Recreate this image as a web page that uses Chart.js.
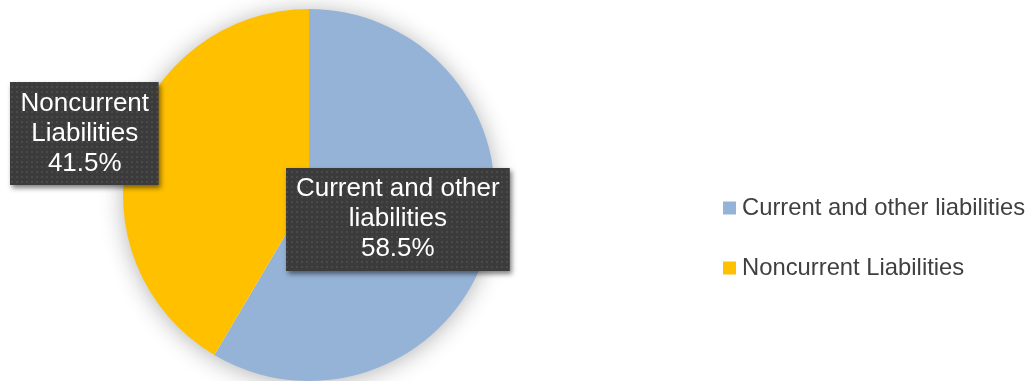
<!DOCTYPE html>
<html>
<head>
<meta charset="utf-8">
<style>
  html, body { margin: 0; padding: 0; background: #fff; }
  #wrap { width: 1033px; height: 381px; }
</style>
</head>
<body>
<div id="wrap"><canvas id="liabChart" width="1033" height="381"></canvas></div>
<script src="https://cdn.jsdelivr.net/npm/chart.js"></script>
<script>
    const categories = ['Current and other liabilities', 'Noncurrent Liabilities'];
    const shares = [58.5, 41.5];
    const sliceColors = ['#95b3d7', '#ffc000'];

    const FONT = '"Liberation Sans", Arial, Helvetica, sans-serif';

    // dotted dark fill used by the data label boxes
    function dotPattern(ctx) {
        const c = document.createElement('canvas');
        c.width = 5; c.height = 5;
        const p = c.getContext('2d');
        p.fillStyle = '#3b3b3b';
        p.fillRect(0, 0, 5, 5);
        p.fillStyle = '#4a4a4a';
        p.fillRect(1, 1, 2, 2);
        return ctx.createPattern(c, 'repeat');
    }

    function wrapText(ctx, text, maxW) {
        const words = text.split(' ');
        const lines = [];
        let cur = '';
        words.forEach(w => {
            const test = cur ? cur + ' ' + w : w;
            if (ctx.measureText(test).width > maxW && cur) {
                lines.push(cur);
                cur = w;
            } else {
                cur = test;
            }
        });
        if (cur) lines.push(cur);
        return lines;
    }

    const pieShadow = {
        id: 'pieShadow',
        beforeDatasetsDraw(chart) {
            const arc = chart.getDatasetMeta(0).data[0];
            if (!arc) return;
            const ctx = chart.ctx;
            ctx.save();
            ctx.shadowColor = 'rgba(0,0,0,0.32)';
            ctx.shadowBlur = 24;
            ctx.shadowOffsetY = 2;
            ctx.fillStyle = '#ffffff';
            ctx.beginPath();
            ctx.arc(arc.x, arc.y, arc.outerRadius - 1, 0, Math.PI * 2);
            ctx.fill();
            ctx.restore();
        }
    };

    const boxLabels = {
        id: 'boxLabels',
        afterDatasetsDraw(chart, args, opts) {
            const ctx = chart.ctx;
            const meta = chart.getDatasetMeta(0);
            const fill = dotPattern(ctx);
            ctx.save();
            ctx.font = '26px ' + FONT;
            meta.data.forEach((arc, i) => {
                const mid = (arc.startAngle + arc.endAngle) / 2;
                const f = opts.radiusFactor[i];
                const cx = arc.x + Math.cos(mid) * arc.outerRadius * f;
                const cy = arc.y + Math.sin(mid) * arc.outerRadius * f;
                const lines = wrapText(ctx, chart.data.labels[i], 215);
                lines.push(chart.data.datasets[0].data[i].toFixed(1) + '%');
                const lh = 30;
                const w = Math.max(...lines.map(l => ctx.measureText(l).width)) + 20;
                const h = lines.length * lh + 13;
                const x0 = Math.round(cx - w / 2), y0 = Math.round(cy - h / 2);

                ctx.save();
                ctx.shadowColor = 'rgba(0,0,0,0.5)';
                ctx.shadowBlur = 5;
                ctx.shadowOffsetX = 2;
                ctx.shadowOffsetY = 3;
                ctx.fillStyle = fill;
                ctx.fillRect(x0, y0, w, h);
                ctx.restore();

                ctx.fillStyle = '#ffffff';
                ctx.textAlign = 'center';
                ctx.textBaseline = 'middle';
                const top = cy - (lines.length - 1) * lh / 2;
                lines.forEach((l, k) => ctx.fillText(l, cx, top + k * lh));
            });
            ctx.restore();
        }
    };

    const sideLegend = {
        id: 'sideLegend',
        afterDraw(chart, args, opts) {
            const ctx = chart.ctx;
            ctx.save();
            ctx.font = '23.8px ' + FONT;
            ctx.textBaseline = 'middle';
            ctx.textAlign = 'left';
            chart.data.labels.forEach((lab, i) => {
                const y = opts.top + i * opts.gap;
                ctx.fillStyle = chart.data.datasets[0].backgroundColor[i];
                ctx.fillRect(opts.x, y - 6.5, 13, 13);
                ctx.fillStyle = '#404040';
                ctx.fillText(lab, opts.x + 19, y);
            });
            ctx.restore();
        }
    };

    const ctx = document.getElementById('liabChart').getContext('2d');
    new Chart(ctx, {
        type: 'pie',
        data: {
            labels: categories,
            datasets: [{
                data: shares,
                backgroundColor: sliceColors,
                borderWidth: 0
            }]
        },
        options: {
            responsive: false,
            animation: false,
            layout: { padding: { top: 9, bottom: 0, left: 0, right: 415 } },
            plugins: {
                legend: { display: false },
                tooltip: { enabled: false },
                boxLabels: { radiusFactor: [0.495, 1.25] },
                sideLegend: { x: 723, top: 208, gap: 60 }
            }
        },
        plugins: [pieShadow, boxLabels, sideLegend]
    });
</script>
</body>
</html>
